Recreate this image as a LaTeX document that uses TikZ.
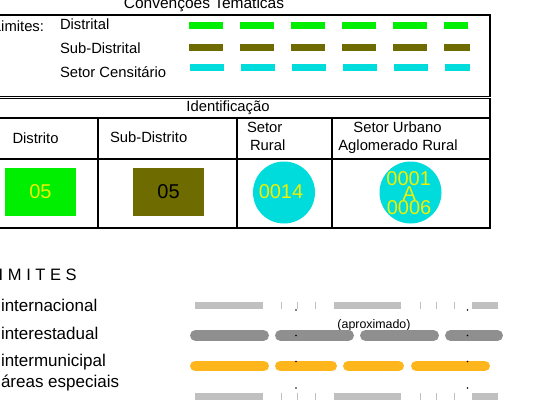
\documentclass[tikz,border=0pt]{standalone}
\usepackage{fontspec}
\setmainfont{Liberation Sans}
\newcommand\fsz[1]{\fontsize{#1bp}{#1bp}\selectfont}
\definecolor{lgreen}{HTML}{00EE00}
\definecolor{olivetwo}{HTML}{6E6C00}
\definecolor{cyantwo}{HTML}{00DCDC}
\definecolor{yel}{HTML}{F0F000}
\definecolor{lgray}{HTML}{C0C0C0}
\definecolor{dgray}{HTML}{8F8F8F}
\definecolor{orng}{HTML}{FFB61C}
\begin{document}
\begin{tikzpicture}[x=1bp,y=-1bp,
  txt/.style={inner sep=0pt,outer sep=0pt,font=\fsz{14.8}},
  bigtxt/.style={inner sep=0pt,outer sep=0pt,font=\fsz{17}},
  frame/.style={line width=1.6bp,draw=black},
  topdash/.style={line width=7bp,dash pattern=on 34bp off 17bp},
  codebox/.style={minimum width=71bp,minimum height=48bp,inner sep=0pt,font=\fsz{20}},
  codecirc/.style={circle,fill=cyantwo,minimum size=62bp,inner sep=0pt},
  ctxt/.style={inner sep=0pt,outer sep=0pt,font=\fsz{20},text=yel,anchor=base},
  thinline/.style={line width=7bp,draw=lgray},
  tick/.style={line width=0.8bp,draw=lgray},
  roundseg/.style={line cap=round}
]
\useasboundingbox (0,0) rectangle (539,407);
\clip (0,0) rectangle (539,407);

% ---------- Convencoes Tematicas ----------
\node[txt,font=\fsz{15.5},anchor=base] (title) at (204,8.5) {Convenções Temáticas};
\draw[frame] (-5,15) rectangle (490,96.5);
\node[txt,anchor=base east] (lim) at (44,31) {Limites:};
\node[txt,anchor=base west] (dist) at (60,29.3) {Distrital};
\node[txt,anchor=base west] (subd) at (60,53.3) {Sub-Distrital};
\node[txt,anchor=base west] (setc) at (60,77.3) {Setor Censitário};
\coordinate (g1) at (189,25.5); \coordinate (g2) at (468,25.5);
\coordinate (o1) at (189,47);   \coordinate (o2) at (470,47);
\coordinate (c1a) at (190,67.5); \coordinate (c1b) at (470,67.5);
\draw[topdash,lgreen] (g1) -- (g2);
\draw[topdash,olivetwo] (o1) -- (o2);
\draw[topdash,cyantwo] (c1a) -- (c1b);

% ---------- Identificacao ----------
\draw[frame] (-5,98.5) rectangle (490,228);
\draw[frame] (-5,118) -- (490,118);
\draw[frame] (-5,159) -- (490,159);
\draw[frame] (98,118) -- (98,228);
\draw[frame] (237,118) -- (237,228);
\draw[frame] (332,118) -- (332,228);
\node[txt,anchor=base] (ident) at (228,111) {Identificação};
\node[txt,anchor=base west] (hdist) at (12.5,143.3) {Distrito};
\node[txt,anchor=base west] (hsub) at (110,142.5) {Sub-Distrito};
\node[txt,anchor=base west] (hset1) at (247,132.3) {Setor};
\node[txt,anchor=base west] (hset2) at (250,150.7) {Rural};
\node[txt,anchor=base] (hurb1) at (397.5,132.3) {Setor Urbano};
\node[txt,anchor=base] (hurb2) at (398,150.7) {Aglomerado Rural};

\node[codebox,fill=lgreen,text=yel] (gbox) at (40.5,192) {05};
\node[codebox,fill=olivetwo,text=black] (obox) at (168.5,192) {05};
\node[codecirc] (circA) at (284,192.5) {};
\node[codecirc] (circB) at (410.5,192.5) {};
\node[ctxt] (t14) at (281,198.3) {0014};
\node[ctxt] (t01) at (408.7,185.7) {0001};
\node[ctxt] (tA) at (409.3,200) {A};
\node[ctxt] (t06) at (409,214.3) {0006};

% ---------- LIMITES ----------
\node[bigtxt,font=\fsz{16.5},anchor=base west] (limites) at (-15,280.3) {L I M I T E S};
\node[bigtxt,anchor=base west] (inter) at (1,311.5) {internacional};
\node[bigtxt,anchor=base west] (intere) at (1,339) {interestadual};
\node[bigtxt,anchor=base west] (interm) at (1,366) {intermunicipal};
\node[bigtxt,anchor=base west] (areas) at (1,387) {áreas especiais};
\node[inner sep=0pt,font=\fsz{12.4},anchor=base] (aprox) at (374,328) {(aproximado)};

% internacional & areas especiais (light gray with ticks)
\foreach \yy/\dy in {305.5/310, 396.5/388}{
  \draw[thinline] (195,\yy) -- (263,\yy);
  \draw[thinline] (334,\yy) -- (401,\yy);
  \draw[thinline] (472,\yy) -- (498,\yy);
  \foreach \xx in {281,297.5,315.5,420,436.5,454}{
    \draw[tick] (\xx,\yy-3.5) -- (\xx,\yy+3.5);
  }
  \fill[black] (296,\dy) circle (0.8);
  \fill[black] (467.5,\dy) circle (0.8);
}

% interestadual (dark gray rounded)
\foreach \a/\b in {195.5/263.5, 280.5/348.5, 365.5/433.5, 450.5/497.5}{
  \draw[roundseg,dgray,line width=11bp] (\a,335.5) -- (\b,335.5);
}
\fill[black] (296,335.5) circle (0.8);
\fill[black] (467.5,335.5) circle (0.8);

% intermunicipal (orange rounded)
\foreach \a/\b in {195.25/263.75, 280.25/331.75, 348.25/398.75, 416.25/484.75}{
  \draw[roundseg,orng,line width=10.5bp] (\a,366) -- (\b,366);
}
\fill[black] (296,361.5) circle (0.8);
\fill[black] (467.5,361.5) circle (0.8);
\end{tikzpicture}
\end{document}
